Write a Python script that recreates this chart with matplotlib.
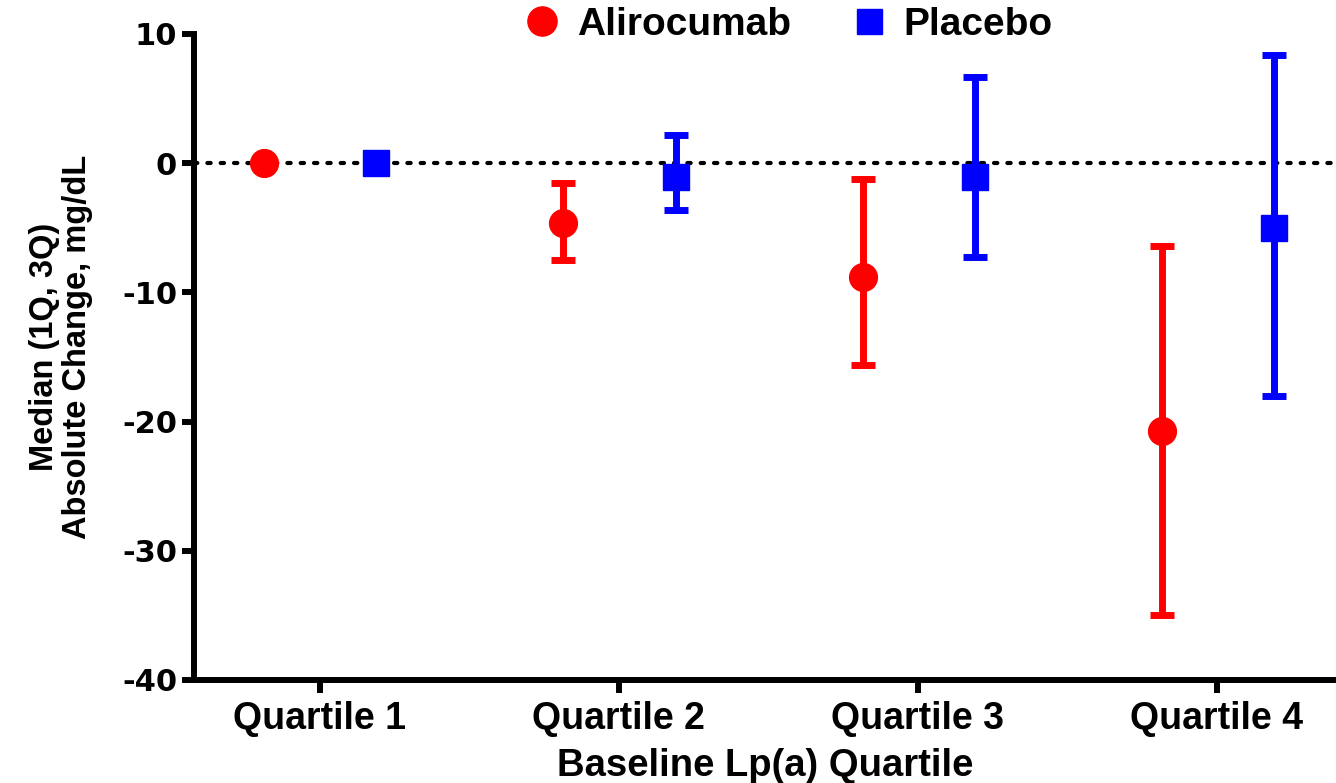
import numpy as np
import matplotlib
matplotlib.use("Agg")
import matplotlib.pyplot as plt
from matplotlib.lines import Line2D

# data (median, 1st quartile, 3rd quartile), mg/dL
quartiles = ["Quartile 1", "Quartile 2", "Quartile 3", "Quartile 4"]
ali_med = [0.0, -4.6, -8.8, -20.7]
ali_q1 = [0.0, -7.5, -15.6, -35.0]
ali_q3 = [0.0, -1.5, -1.2, -6.4]
pla_med = [0.0, -1.1, -1.1, -5.0]
pla_q1 = [-0.1, -3.6, -7.3, -18.0]
pla_q3 = [0.6, 2.2, 6.7, 8.4]

RED = "#ff0000"
BLUE = "#0000ff"
LAB = ["Liberation Sans", "DejaVu Sans"]

fig = plt.figure(figsize=(13.36, 7.83), dpi=100)
ax = fig.add_axes([0.145, 0.1316, 0.855, 0.825])

x = np.arange(len(quartiles))
am, pm = np.array(ali_med), np.array(pla_med)
ax.axhline(0, color="black", lw=3, linestyle=(0, (0.8, 2.4)),
           dash_capstyle="round", zorder=1)
ax.errorbar(x - 0.185, am, yerr=[am - np.array(ali_q1), np.array(ali_q3) - am],
            fmt="o", ms=20, color=RED, ecolor=RED, elinewidth=5, capsize=8.5,
            capthick=5, zorder=3, label="Alirocumab")
ax.errorbar(x + 0.19, pm, yerr=[pm - np.array(pla_q1), np.array(pla_q3) - pm],
            fmt="s", ms=18.5, color=BLUE, ecolor=BLUE, elinewidth=5, capsize=8.5,
            capthick=5, zorder=3, label="Placebo")

ax.set_xlim(-0.421, 3.398)
ax.set_ylim(-40, 10)
ax.set_yticks([10, 0, -10, -20, -30, -40])
ax.set_yticklabels(["10", "0", "-10", "-20", "-30", "-40"],
                   fontsize=22, fontweight="bold", family="DejaVu Sans")
ax.set_xticks(x)
ax.set_xticklabels(quartiles, fontsize=27, fontweight="bold", family=LAB)
for s in ["top", "right"]:
    ax.spines[s].set_visible(False)
for s in ["left", "bottom"]:
    ax.spines[s].set_linewidth(4.3)
ax.tick_params(axis="both", width=4.3, length=9, pad=6)
ax.tick_params(axis="y", pad=3)

ax.set_xlabel("Baseline Lp(a) Quartile", fontsize=27.5, fontweight="bold",
              family=LAB, labelpad=8)
ax.set_ylabel("Median (1Q, 3Q)\nAbsolute Change, mg/dL", fontsize=23.5,
              fontweight="bold", family=LAB, linespacing=1.1)
ax.yaxis.set_label_coords(-0.088, 0.515)

handles = [Line2D([], [], marker="o", ls="none", color=RED, ms=21),
           Line2D([], [], marker="s", ls="none", color=BLUE, ms=18)]
fig.legend(handles, ["Alirocumab", "Placebo"], loc="center",
           bbox_to_anchor=(0.588, 0.968), ncol=2, frameon=False,
           prop={"family": LAB, "weight": "bold", "size": 28},
           handletextpad=0.3, columnspacing=1.4, handlelength=1.2)

fig.savefig("out.png", dpi=100)
